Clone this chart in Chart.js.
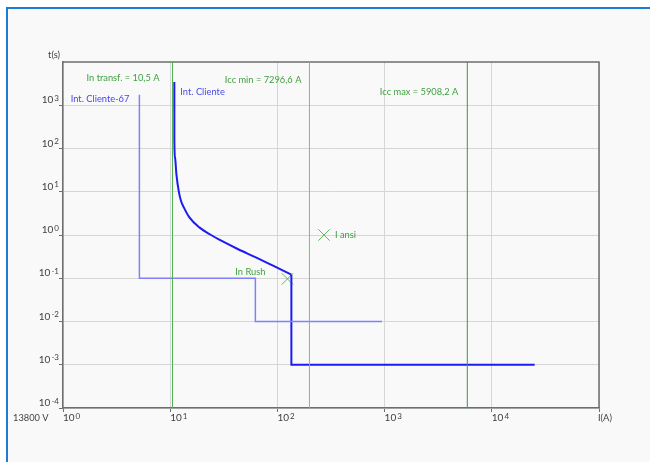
<!DOCTYPE html>
<html>
<head>
<meta charset="utf-8">
<script src="https://cdn.jsdelivr.net/npm/chart.js@4.4.1/dist/chart.umd.min.js"></script>
<style>
  html, body { margin: 0; padding: 0; background: #ffffff; overflow: hidden; }
  #frame { position: absolute; left: 6px; top: 7px; width: 700px; height: 500px;
           border-left: 2px solid #1e7bd4; border-top: 2px solid #1e7bd4; background: #f9f9f9; }
  #wrap { position: absolute; left: 0; top: 0; width: 650px; height: 462px; }
</style>
</head>
<body>
<div id="frame"></div>
<div id="wrap"><canvas id="tcc" width="650" height="462"></canvas></div>
<script>
// decades of the two log axes
var xDecades = [1, 10, 100, 1000, 10000, 100000];
var yDecades = [1e-4, 1e-3, 1e-2, 1e-1, 1, 10, 100, 1000];

// Int. Cliente-67 (definite time steps)
var c67Current = [5.16, 5.16, 62.3, 62.3, 946];
var c67Time    = [1740, 0.1, 0.1, 0.01, 0.01];

// Int. Cliente - inverse time curve
var cliCurrent = [10.93, 10.94, 11.09, 11.42, 12.0, 12.6, 13.4, 15.1, 18.7, 23.4, 30.9, 42.6, 63.7, 91, 135];
var cliTime    = [3470, 150, 62, 25.6, 10.5, 6.2, 4.34, 2.55, 1.50, 1.04, 0.708, 0.475, 0.299, 0.195, 0.121];
// Int. Cliente - instantaneous part
var instCurrent = [135, 135, 25100];
var instTime    = [0.121, 0.001, 0.001];

// reference currents (vertical lines)
var refNames   = ['In transf. = 10,5 A', 'Icc min = 7296,6 A', 'Icc max = 5908,2 A'];
var refCurrent = [10.5, 199, 5908];

// points
var markNames   = ['In Rush', 'I ansi'];
var markCurrent = [124, 272];
var markTime    = [0.0966, 1.0];

var FONT = 'Lato, sans-serif';
var NOTE_FONT = '9.3px ' + FONT;
var GREEN_TXT = '#3f9f3f';

function pts(xs, ys) { return xs.map(function (x, i) { return { x: x, y: ys[i] }; }); }

var refColors = ['#4fae4f', '#74c274', '#3d963d'];
var datasets = refCurrent.map(function (v, i) {
  return { data: [{ x: v, y: 1e-4 }, { x: v, y: 1e4 }], showLine: true, borderColor: refColors[i],
           borderWidth: 1, pointRadius: 0 };
});
datasets.push({ data: pts(c67Current, c67Time), showLine: true, borderColor: '#8080ff', borderWidth: 1.5, pointRadius: 0 });
datasets.push({ data: pts(cliCurrent, cliTime), showLine: true, borderColor: '#1c1cf2', borderWidth: 2, pointRadius: 0,
                cubicInterpolationMode: 'monotone' });
datasets.push({ data: pts(instCurrent, instTime), showLine: true, borderColor: '#1c1cf2', borderWidth: 2, pointRadius: 0 });
datasets.push({ data: pts(markCurrent, markTime), showLine: false, pointStyle: 'crossRot', pointRadius: 8,
                borderColor: '#5cb85c', borderWidth: 1, backgroundColor: 'transparent' });

// text notes: [text, current, time, dx, align, color]
var notes = [
  [refNames[0], refCurrent[0], 4295, -13, 'right', GREEN_TXT],
  [refNames[1], refCurrent[1], 3800, -8, 'right', GREEN_TXT],
  [refNames[2], refCurrent[2], 2071, -9, 'right', GREEN_TXT],
  ['Int. Cliente-67', c67Current[0], 1383, -10, 'right', '#4646f0'],
  ['Int. Cliente', cliCurrent[0], 2040, 6, 'left', '#4a4ae8'],
  [markNames[0], markCurrent[0], 0.137, -22, 'right', GREEN_TXT],
  [markNames[1], markCurrent[1], 1.0, 11, 'left', GREEN_TXT]
];

function drawPow(ctx, x, y, exp, alignRight) {
  ctx.font = '10px ' + FONT;
  var wb = ctx.measureText('10').width;
  ctx.font = '8px ' + FONT;
  var we = ctx.measureText(String(exp)).width;
  var x0 = alignRight ? x - wb - 1 - we : x;
  ctx.textAlign = 'left';
  ctx.textBaseline = 'alphabetic';
  ctx.font = '10px ' + FONT;
  ctx.fillText('10', x0, y);
  ctx.font = '8px ' + FONT;
  ctx.fillText(String(exp), x0 + wb + 1, y - 2.5);
}

var decor = {
  id: 'decor',
  beforeDatasetsDraw: function (chart) {
    var ctx = chart.ctx, a = chart.chartArea;
    ctx.save();
    ctx.strokeStyle = '#6e6e6e';
    ctx.lineWidth = 1.5;
    ctx.beginPath();
    ctx.moveTo(a.left, a.top);
    ctx.lineTo(a.right, a.top);
    ctx.lineTo(a.right, a.bottom);
    ctx.stroke();
    ctx.restore();
  },
  afterDraw: function (chart) {
    var ctx = chart.ctx, xs = chart.scales.x, ys = chart.scales.y, a = chart.chartArea;
    ctx.save();
    ctx.fillStyle = '#404040';
    yDecades.forEach(function (v) {
      drawPow(ctx, a.left - 4, ys.getPixelForValue(v) - 2, Math.round(Math.log10(v)), true);
    });
    xDecades.slice(0, 5).forEach(function (v) {
      drawPow(ctx, xs.getPixelForValue(v), a.bottom + 13, Math.round(Math.log10(v)), false);
    });
    ctx.font = NOTE_FONT;
    ctx.textBaseline = 'alphabetic';
    ctx.textAlign = 'right';
    ctx.fillText('t(s)', a.left - 3, a.top - 4);
    ctx.textAlign = 'left';
    ctx.fillText('I(A)', a.right - 1, a.bottom + 13);
    ctx.fillText('13800 V', 13, a.bottom + 13);
    ctx.textBaseline = 'middle';
    notes.forEach(function (n) {
      ctx.fillStyle = n[5];
      ctx.textAlign = n[4];
      ctx.fillText(n[0], xs.getPixelForValue(n[1]) + n[3], ys.getPixelForValue(n[2]));
    });
    ctx.restore();
  }
};

new Chart(document.getElementById('tcc'), {
  type: 'scatter',
  data: { datasets: datasets },
  plugins: [decor],
  options: {
    responsive: false,
    animation: false,
    devicePixelRatio: 1,
    layout: { padding: { left: 0, top: 62, right: 51, bottom: 0 } },
    plugins: { legend: { display: false }, tooltip: { enabled: false } },
    elements: { line: { tension: 0 } },
    scales: {
      x: {
        type: 'logarithmic', position: 'bottom', min: 1, max: 1e5,
        afterBuildTicks: function (s) { s.ticks = xDecades.map(function (v) { return { value: v }; }); },
        afterFit: function (s) { s.height = 54; },
        ticks: { display: false },
        grid: { color: '#d6d6d6', lineWidth: 1, tickColor: '#6e6e6e', tickLength: 4, drawTicks: true },
        border: { color: '#6e6e6e', width: 1.5 }
      },
      y: {
        type: 'logarithmic', position: 'left', min: 1e-4, max: 1e4,
        afterBuildTicks: function (s) { s.ticks = yDecades.map(function (v) { return { value: v }; }); },
        afterFit: function (s) { s.width = 63; },
        ticks: { display: false },
        grid: { color: '#d6d6d6', lineWidth: 1, tickColor: '#6e6e6e', tickLength: 4, drawTicks: true },
        border: { color: '#6e6e6e', width: 1.5 }
      }
    }
  }
});
</script>
</body>
</html>
